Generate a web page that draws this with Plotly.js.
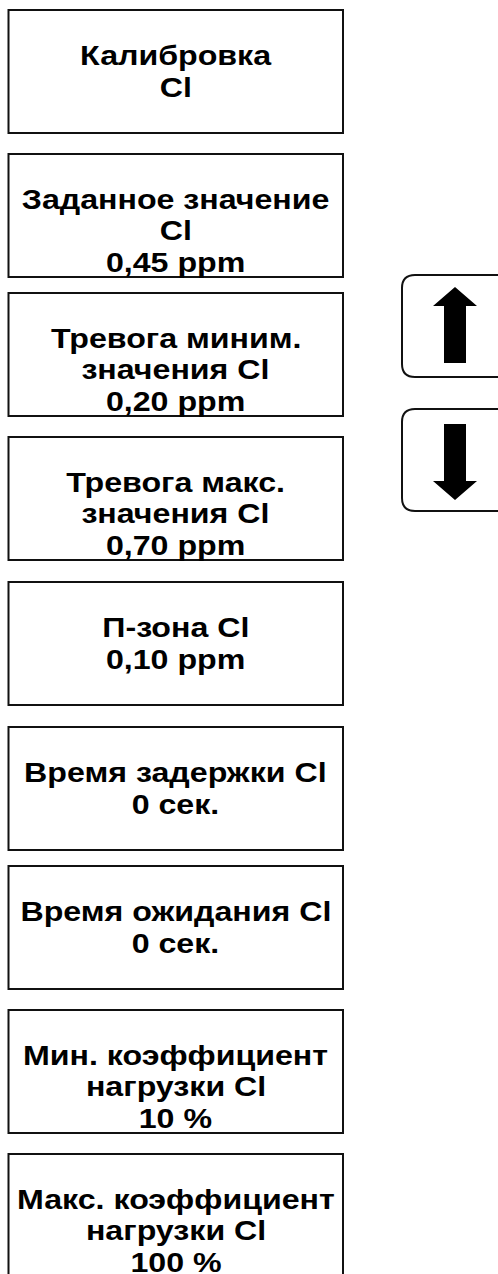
<!DOCTYPE html>
<html>
<head>
<meta charset="utf-8">
<script src="https://cdn.plot.ly/plotly-3.0.1.min.js"></script>
<style>html,body{margin:0;padding:0;background:#fff;}#chart{width:498px;height:1274px;}</style>
</head>
<body>
<div id="chart"></div>
<script>
// ---- data ----
const paramLabels = [
  ["Калибровка", "Cl"],
  ["Заданное значение", "Cl"],
  ["Тревога миним.", "значения Cl"],
  ["Тревога макс.", "значения Cl"],
  ["П-зона Cl"],
  ["Время задержки Cl"],
  ["Время ожидания Cl"],
  ["Мин. коэффициент", "нагрузки Cl"],
  ["Макс. коэффициент", "нагрузки Cl"]
];
const paramValues = ["", "0,45 ppm", "0,20 ppm", "0,70 ppm", "0,10 ppm", "0 сек.", "0 сек.", "10 %", "100 %"];
const buttonSymbols = ["up", "down"];

// ---- layout constants ----
const W = 498, H = 1274;
const boxTops = [10, 154, 293, 437, 582, 727, 866, 1010, 1154];
const boxLeft = 8.5, boxRight = 343, boxH = 123;
const linePitch = 31.5;
const fontSize = 27.5;
const textStretch = 1.17;
const btnLeft = 402, btnRight = 510, btnR = 13;
const btnTops = [275, 409], btnH = 102;

const shapes = [];
const annotations = [];
const black = "#000";

paramLabels.forEach((lbl, i) => {
  const y0 = boxTops[i];
  shapes.push({type: "rect", xref: "x", yref: "y", x0: boxLeft, x1: boxRight, y0: y0, y1: y0 + boxH,
    line: {color: "#111", width: 2}, fillcolor: "rgba(0,0,0,0)"});
  const lines = lbl.slice();
  if (paramValues[i]) lines.push(paramValues[i]);
  const firstY = lines.length >= 3 ? y0 + 45 : y0 + boxH / 2 - linePitch / 2;
  lines.forEach((t, k) => {
    annotations.push({x: (boxLeft + boxRight) / 2, y: firstY + k * linePitch, xref: "x", yref: "y",
      text: t, showarrow: false, xanchor: "center", yanchor: "middle",
      font: {family: "Liberation Sans, Arial, sans-serif", size: fontSize, color: black, weight: "bold"}});
  });
});

function roundRect(x0, y0, x1, y1, r) {
  return `M${x0 + r},${y0} L${x1 - r},${y0} Q${x1},${y0} ${x1},${y0 + r} L${x1},${y1 - r} Q${x1},${y1} ${x1 - r},${y1} ` +
    `L${x0 + r},${y1} Q${x0},${y1} ${x0},${y1 - r} L${x0},${y0 + r} Q${x0},${y0} ${x0 + r},${y0} Z`;
}
function arrowPath(dir, top, bottom) {
  const cx = 455, hw = 22, sw = 11, hl = 19;
  if (dir === "up") {
    return `M${cx},${top} L${cx + hw},${top + hl} L${cx + sw},${top + hl} L${cx + sw},${bottom} L${cx - sw},${bottom} L${cx - sw},${top + hl} L${cx - hw},${top + hl} Z`;
  }
  return `M${cx},${bottom} L${cx + hw},${bottom - hl} L${cx + sw},${bottom - hl} L${cx + sw},${top} L${cx - sw},${top} L${cx - sw},${bottom - hl} L${cx - hw},${bottom - hl} Z`;
}
buttonSymbols.forEach((s, i) => {
  const t = btnTops[i];
  shapes.push({type: "path", xref: "x", yref: "y", path: roundRect(btnLeft, t, btnRight, t + btnH, btnR),
    line: {color: "#111", width: 2}, fillcolor: "rgba(0,0,0,0)"});
  const aTop = s === "up" ? t + 12 : t + 15;
  const aBot = s === "up" ? t + 88 : t + 91;
  shapes.push({type: "path", xref: "x", yref: "y", path: arrowPath(s, aTop, aBot),
    line: {color: black, width: 0}, fillcolor: black});
});

const layout = {
  width: W, height: H,
  margin: {l: 0, r: 0, t: 0, b: 0, pad: 0},
  paper_bgcolor: "#fff", plot_bgcolor: "#fff",
  xaxis: {range: [0, W], visible: false, fixedrange: true},
  yaxis: {range: [H, 0], visible: false, fixedrange: true},
  showlegend: false,
  shapes: shapes,
  annotations: annotations
};
Plotly.newPlot("chart", [], layout, {staticPlot: true, displayModeBar: false}).then(() => {
  // the reference lettering is slightly wider than Arial: stretch each label horizontally about its centre
  document.querySelectorAll("#chart .annotation-text").forEach(el => {
    const bb = el.getBBox();
    const cx = bb.x + bb.width / 2;
    const prev = el.getAttribute("transform") || "";
    el.setAttribute("transform", `${prev} translate(${cx},0) scale(${textStretch},1) translate(${-cx},0)`.trim());
  });
});
</script>
</body>
</html>
